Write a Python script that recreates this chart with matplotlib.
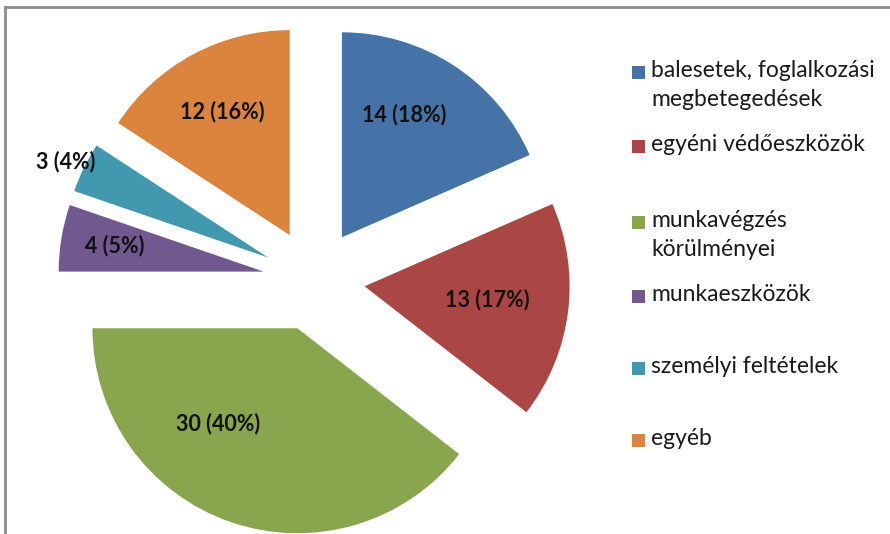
import matplotlib
matplotlib.use("Agg")
import matplotlib.pyplot as plt
from matplotlib.patches import Rectangle
from matplotlib.lines import Line2D

categories = ["balesetek, foglalkozási\nmegbetegedések", "egyéni védőeszközök",
              "munkavégzés\nkörülményei", "munkaeszközök", "személyi feltételek", "egyéb"]
values = [14, 13, 30, 4, 3, 12]
percent_labels = ["14 (18%)", "13 (17%)", "30 (40%)", "4 (5%)", "3 (4%)", "12 (16%)"]
colors = ["#4572A7", "#AA4643", "#89A54E", "#71588F", "#4198AF", "#DB843D"]

W, H = 890, 534
fig = plt.figure(figsize=(W / 100, H / 100), dpi=100)
ax = fig.add_axes([0, 0, 1, 1])

cx, cy, R = 314, H - 280, 205
ax.pie(values, colors=colors, startangle=90, counterclock=False,
       center=(cx, cy), radius=R, explode=[51] * len(values),
       wedgeprops=dict(linewidth=0))
ax.set_xlim(0, W)
ax.set_ylim(0, H)
ax.set_aspect("equal")
ax.axis("off")

# data label positions (pixel layout)
label_pos = [(404, 115), (487, 300), (218, 424), (115, 246), (66, 162), (222, 112)]
for txt, (x, y) in zip(percent_labels, label_pos):
    ax.text(x, H - y, txt, ha="center", va="center", fontsize=15.5,
            fontweight="bold", family="Lato", color="#111111")

# legend
leg_y = [72, 146, 222, 296, 368, 440]
for cat, col, y in zip(categories, colors, leg_y):
    ax.add_patch(Rectangle((632, H - y - 6.5), 13, 13, facecolor=col, edgecolor="none"))
    ax.text(651, H - y + 12, cat, ha="left", va="top", fontsize=16.5,
            family="Lato", color="#1a1a1a", linespacing=1.5)

# outer frame (top and left visible)
fig.add_artist(Line2D([5 / W, 1], [1 - 7 / H, 1 - 7 / H], color="#8c8c8c", lw=2,
                      transform=fig.transFigure))
fig.add_artist(Line2D([5 / W, 5 / W], [0, 1 - 7 / H], color="#8c8c8c", lw=2,
                      transform=fig.transFigure))

fig.savefig("out.png", dpi=100, facecolor="white")
